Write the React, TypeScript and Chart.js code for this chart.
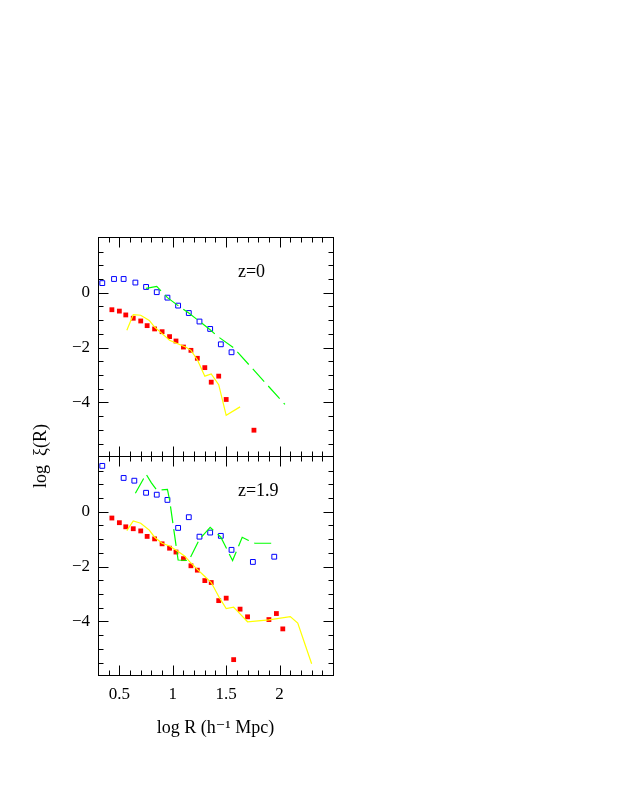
import React, { useEffect, useRef } from 'react';
import { Chart, registerables } from 'chart.js';

Chart.register(...registerables);

// ---- axis ticks ----
const xTickValues = [0.5, 1, 1.5, 2];
const xTickLabels = ['0.5', '1', '1.5', '2'];
const yTickValues = [-4, -2, 0];
const yTickLabels = ['\u22124', '\u22122', '0'];

// ---- top panel (z=0) ----
const topBlueX = [0.34, 0.45, 0.54, 0.65, 0.75, 0.85, 0.95, 1.05, 1.15, 1.25, 1.35, 1.45, 1.55];
const topBlueY = [0.35, 0.5, 0.5, 0.37, 0.21, 0.02, -0.18, -0.47, -0.74, -1.05, -1.32, -1.88, -2.17];

const topRedX = [0.43, 0.5, 0.56, 0.63, 0.7, 0.76, 0.83, 0.9, 0.97, 1.03, 1.1, 1.17, 1.23, 1.3, 1.36, 1.43, 1.5, 1.76];
const topRedY = [-0.62, -0.67, -0.81, -0.93, -1.03, -1.2, -1.32, -1.42, -1.6, -1.76, -1.98, -2.1, -2.39, -2.73, -3.26, -3.04, -3.89, -5.01];

const topYellowX = [0.57, 0.63, 0.7, 0.78, 0.83, 0.9, 0.97, 1.04, 1.12, 1.17, 1.23, 1.3, 1.36, 1.43, 1.5, 1.63];
const topYellowY = [-1.37, -0.8, -0.82, -1.01, -1.25, -1.49, -1.73, -1.85, -1.98, -2.1, -2.44, -3.04, -2.96, -3.35, -4.47, -4.16];

const topGreenX = [0.75, 0.85, 0.95, 1.05, 1.15, 1.35, 1.42, 1.57, 2.05];
const topGreenY = [0.16, 0.23, -0.18, -0.47, -0.74, -1.35, -1.59, -2.01, -4.07];

// ---- bottom panel (z=1.9) ----
const botBlueX = [0.34, 0.54, 0.64, 0.75, 0.85, 0.95, 1.05, 1.15, 1.25, 1.35, 1.45, 1.55, 1.75, 1.95];
const botBlueY = [1.67, 1.23, 1.13, 0.69, 0.62, 0.43, -0.59, -0.2, -0.91, -0.76, -0.88, -1.39, -1.83, -1.64];

const botRedX = [0.43, 0.5, 0.56, 0.63, 0.7, 0.76, 0.83, 0.9, 0.97, 1.03, 1.1, 1.17, 1.23, 1.3, 1.36, 1.43, 1.5, 1.57, 1.63, 1.7, 1.9, 1.97, 2.03];
const botRedY = [-0.23, -0.4, -0.55, -0.62, -0.7, -0.9, -0.99, -1.17, -1.33, -1.47, -1.71, -1.97, -2.13, -2.51, -2.58, -3.24, -3.15, -5.39, -3.55, -3.83, -3.93, -3.71, -4.27];

const botYellowX = [0.57, 0.63, 0.7, 0.78, 0.83, 0.9, 0.97, 1.04, 1.11, 1.16, 1.23, 1.3, 1.36, 1.43, 1.5, 1.57, 1.63, 1.7, 1.9, 2.1, 2.17, 2.3];
const botYellowY = [-0.69, -0.34, -0.42, -0.67, -0.93, -1.15, -1.25, -1.42, -1.61, -1.83, -2.1, -2.36, -2.58, -3.09, -3.53, -3.48, -3.72, -4.01, -3.94, -3.82, -4.06, -5.54];

const botGreenX = [0.65, 0.75, 0.8, 0.85, 0.95, 0.97, 1.05, 1.15, 1.25, 1.35, 1.45, 1.56, 1.65, 1.71, 1.77, 1.95];
const botGreenY = [0.67, 1.37, 1.05, 0.79, 0.81, 0.43, -1.76, -1.78, -1.0, -0.57, -0.93, -1.78, -0.93, -1.05, -1.15, -1.15];

const panelLabels = ['z=0', 'z=1.9'];
const xTitle = 'log R (h\u207B\u00B9 Mpc)';
const yTitle = 'log  \u03BE(R)';

const X_MIN = 0.3;
const X_MAX = 2.5;
const Y_MIN = -5.95;
const Y_MAX = 2.03;

const FONT = "'Liberation Serif', 'DejaVu Serif', serif";

const pts = (xs: number[], ys: number[]) => xs.map((x, i) => ({ x, y: ys[i] }));

const fmtX = (v: number) => {
  const i = xTickValues.indexOf(v);
  return i >= 0 ? xTickLabels[i] : '';
};
const fmtY = (v: number) => {
  const i = yTickValues.indexOf(v);
  return i >= 0 ? yTickLabels[i] : '';
};

const framePlugin = {
  id: 'frameTicks',
  afterDraw(chart: any) {
    const ctx = chart.ctx;
    const xs = chart.scales.x;
    const panels = [chart.scales.yTop, chart.scales.yBot];
    ctx.save();
    ctx.strokeStyle = '#000';
    ctx.lineWidth = 1;
    const left = Math.round(xs.left) + 0.5;
    const right = Math.round(xs.right) + 0.5;
    panels.forEach((ys: any, pi: number) => {
      const top = Math.round(ys.top) + 0.5;
      const bottom = Math.round(ys.bottom) + 0.5;
      ctx.strokeRect(left, top, right - left, bottom - top);
      ctx.beginPath();
      // x ticks (minor every 0.1, major every 0.5)
      for (let k = 4; k <= 24; k++) {
        const v = k / 10;
        const major = k % 5 === 0;
        const len = major ? 10 : 5;
        const px = Math.round(xs.getPixelForValue(v)) + 0.5;
        ctx.moveTo(px, top);
        ctx.lineTo(px, top + len);
        ctx.moveTo(px, bottom);
        ctx.lineTo(px, bottom - len);
      }
      // y ticks (minor every 0.5, major every 2)
      for (let k = -11; k <= 3; k++) {
        const v = k / 2;
        const major = k % 4 === 0;
        const len = major ? 10 : 5;
        const py = Math.round(ys.getPixelForValue(v)) + 0.5;
        ctx.moveTo(left, py);
        ctx.lineTo(left + len, py);
        ctx.moveTo(right, py);
        ctx.lineTo(right - len, py);
      }
      ctx.stroke();
      // panel label
      ctx.fillStyle = '#000';
      ctx.font = `18px ${FONT}`;
      ctx.textAlign = 'left';
      ctx.textBaseline = 'middle';
      ctx.fillText(panelLabels[pi], xs.getPixelForValue(1.61), ys.getPixelForValue(0.75));
    });
    // axis titles
    ctx.fillStyle = '#000';
    ctx.font = `18px ${FONT}`;
    ctx.textAlign = 'center';
    ctx.textBaseline = 'middle';
    ctx.fillText(xTitle, (xs.left + xs.right) / 2, 728);
    ctx.save();
    ctx.translate(41, (panels[0].top + panels[1].bottom) / 2);
    ctx.rotate(-Math.PI / 2);
    ctx.fillText(yTitle, 0, 0);
    ctx.restore();
    ctx.restore();
  },
};

function yScale(stackOrder: number) {
  return {
    type: 'linear' as const,
    position: 'left' as const,
    stack: 'panels',
    stackWeight: 1,
    weight: stackOrder,
    min: Y_MIN,
    max: Y_MAX,
    grid: { display: false, drawTicks: false },
    border: { display: false },
    afterBuildTicks: (s: any) => {
      s.ticks = yTickValues.map((v) => ({ value: v }));
    },
    afterFit: (s: any) => {
      s.width = 98;
    },
    ticks: {
      callback: (v: any) => fmtY(Number(v)),
      color: '#000',
      font: { family: FONT, size: 17 },
      padding: 8,
      autoSkip: false,
    },
  };
}

export default function App() {
  const ref = useRef<HTMLCanvasElement | null>(null);
  useEffect(() => {
    if (!ref.current) return;
    const blueSq = {
      pointStyle: 'rect',
      pointRadius: 3.4,
      pointBorderWidth: 1,
      pointBorderColor: '#0000ff',
      pointBackgroundColor: 'rgba(0,0,0,0)',
      borderColor: '#0000ff',
      backgroundColor: 'rgba(0,0,0,0)',
      showLine: false,
    };
    const redSq = {
      pointStyle: 'rect',
      pointRadius: 3.4,
      pointBorderWidth: 0,
      pointBackgroundColor: '#ff0000',
      borderColor: '#ff0000',
      backgroundColor: '#ff0000',
      showLine: false,
    };
    const yellowLine = {
      showLine: true,
      pointRadius: 0,
      borderColor: '#ffff00',
      borderWidth: 1.2,
      fill: false,
      tension: 0,
    };
    const greenLine = {
      showLine: true,
      pointRadius: 0,
      borderColor: '#00ff00',
      borderWidth: 1.2,
      borderDash: [17, 6],
      fill: false,
      tension: 0,
    };
    const chart = new Chart(ref.current, {
      type: 'scatter',
      data: {
        datasets: [
          { ...yellowLine, data: pts(topYellowX, topYellowY), yAxisID: 'yTop' },
          { ...greenLine, data: pts(topGreenX, topGreenY), yAxisID: 'yTop' },
          { ...blueSq, data: pts(topBlueX, topBlueY), yAxisID: 'yTop' },
          { ...redSq, data: pts(topRedX, topRedY), yAxisID: 'yTop' },
          { ...yellowLine, data: pts(botYellowX, botYellowY), yAxisID: 'yBot' },
          { ...greenLine, data: pts(botGreenX, botGreenY), yAxisID: 'yBot' },
          { ...blueSq, data: pts(botBlueX, botBlueY), yAxisID: 'yBot' },
          { ...redSq, data: pts(botRedX, botRedY), yAxisID: 'yBot' },
        ] as any,
      },
      options: {
        animation: false,
        responsive: false,
        devicePixelRatio: 1,
        layout: { padding: { top: 237, right: 305, bottom: 82, left: 0 } },
        plugins: { legend: { display: false }, tooltip: { enabled: false } },
        events: [],
        scales: {
          x: {
            type: 'linear',
            position: 'bottom',
            min: X_MIN,
            max: X_MAX,
            grid: { display: false, drawTicks: false },
            border: { display: false },
            afterBuildTicks: (s: any) => {
              s.ticks = xTickValues.map((v) => ({ value: v }));
            },
            afterFit: (s: any) => {
              s.height = 40;
            },
            ticks: {
              callback: (v: any) => fmtX(Number(v)),
              color: '#000',
              font: { family: FONT, size: 17 },
              padding: 9,
              maxRotation: 0,
              autoSkip: false,
            },
          },
          yTop: yScale(2),
          yBot: yScale(1),
        } as any,
      },
      plugins: [framePlugin],
    });
    return () => chart.destroy();
  }, []);
  return (
    <div style={{ position: 'absolute', left: 0, top: 0, width: 638, height: 797 }}>
      <canvas ref={ref} width={638} height={797} style={{ width: 638, height: 797 }} />
    </div>
  );
}
